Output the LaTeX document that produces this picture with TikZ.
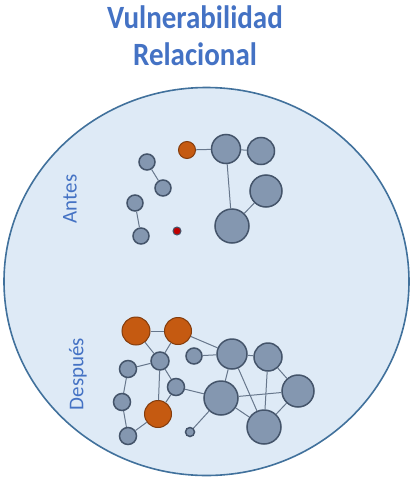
\documentclass[tikz,border=0pt]{standalone}
\usepackage{fontspec}
\setmainfont{Carlito}
\usepackage{tikz}
\definecolor{titleblue}{HTML}{4472C4}
\definecolor{ringblue}{HTML}{41719C}
\definecolor{ringfill}{HTML}{DEEAF6}
\definecolor{nodefill}{HTML}{8497B0}
\definecolor{nodeline}{HTML}{44546A}
\definecolor{orangefill}{HTML}{C55A11}
\definecolor{orangeline}{HTML}{843C0C}
\definecolor{redfill}{HTML}{C00000}
\definecolor{edgegrey}{HTML}{67778C}
\tikzstyle{actor} = [circle, draw=nodeline, fill=nodefill, line width=1.5pt, inner sep=0pt]
\tikzstyle{risk} = [circle, draw=orangeline, fill=orangefill, line width=1pt, inner sep=0pt]
\tikzstyle{focus} = [circle, draw=nodeline, fill=redfill, line width=1pt, inner sep=0pt]
\tikzstyle{tie} = [draw=edgegrey, line width=1pt]
\tikzstyle{phase} = [text=titleblue, font=\fontsize{21}{24}\selectfont, rotate=90]

\begin{document}
\begin{tikzpicture}[x=1pt, y=-1pt]
    \useasboundingbox (0,0) rectangle (413,477);
    \node [text=titleblue, font=\fontsize{29}{33}\selectfont\bfseries, align=center, yscale=1.12, transform shape] (title) at (195,36) {Vulnerabilidad\\Relacional};
    \draw [ringblue, fill=ringfill, line width=1.6pt] (206.5,281.5) ellipse [x radius=202.5, y radius=194];
    \node [phase] (antes) at (70,199) {Antes};
    \node [phase] (despues) at (78,374) {Después};

    % antes
    \node [actor, minimum size=16pt] (a1) at (147,162) {};
    \node [actor, minimum size=16pt] (a2) at (163,188) {};
    \node [actor, minimum size=16pt] (a3) at (135,203) {};
    \node [actor, minimum size=16pt] (a4) at (141,236) {};
    \node [focus, minimum size=8pt] (a_red) at (177,231) {};
    \node [risk, minimum size=17pt] (a_or) at (187,150) {};
    \node [actor, minimum size=29pt] (a_big1) at (226,149) {};
    \node [actor, minimum size=27pt] (a_big2) at (261,151) {};
    \node [actor, minimum size=32pt] (a_big3) at (266,191) {};
    \node [actor, minimum size=34pt] (a_big4) at (232,226) {};

    % despues
    \node [risk, minimum size=28pt] (d_or1) at (136,331) {};
    \node [risk, minimum size=27pt] (d_or2) at (178,331) {};
    \node [risk, minimum size=27pt] (d_or3) at (158,414) {};
    \node [actor, minimum size=18pt] (d1) at (160,361) {};
    \node [actor, minimum size=17pt] (d2) at (128,369) {};
    \node [actor, minimum size=17pt] (d3) at (122,402) {};
    \node [actor, minimum size=17pt] (d4) at (128,436) {};
    \node [actor, minimum size=17pt] (d5) at (176,387) {};
    \node [actor, minimum size=16pt] (d6) at (194,356) {};
    \node [actor, minimum size=9pt] (d7) at (190,432) {};
    \node [actor, minimum size=30pt] (d_big1) at (232,354) {};
    \node [actor, minimum size=28pt] (d_big2) at (268,357) {};
    \node [actor, minimum size=34pt] (d_big3) at (221,398) {};
    \node [actor, minimum size=32pt] (d_big4) at (298,391) {};
    \node [actor, minimum size=34pt] (d_big5) at (264,427) {};

    \path [tie] (a1) -- (a2);
    \path [tie] (a3) -- (a4);
    \path [tie] (a_or) -- (a_big1);
    \path [tie] (a_big1) -- (a_big2);
    \path [tie] (a_big1) -- (a_big4);
    \path [tie] (a_big4) -- (a_big3);

    \path [tie] (d_or1) -- (d_or2);
    \path [tie] (d_or1) -- (d1);
    \path [tie] (d_or2) -- (d1);
    \path [tie] (d_or2) -- (d_big1);
    \path [tie] (d1) -- (d2);
    \path [tie] (d2) -- (d3);
    \path [tie] (d3) -- (d4);
    \path [tie] (d4) -- (d_or3);
    \path [tie] (d1) -- (d_or3);
    \path [tie] (d1) -- (d5);
    \path [tie] (d5) -- (d_or3);
    \path [tie] (d5) -- (d_big3);
    \path [tie] (d6) -- (d_big1);
    \path [tie] (d7) -- (d_big3);
    \path [tie] (d_big1) -- (d_big2);
    \path [tie] (d_big1) -- (d_big3);
    \path [tie] (d_big1) -- (d_big5);
    \path [tie] (d_big2) -- (d_big5);
    \path [tie] (d_big2) -- (d_big4);
    \path [tie] (d_big3) -- (d_big4);
    \path [tie] (d_big3) -- (d_big5);
    \path [tie] (d_big4) -- (d_big5);
\end{tikzpicture}
\end{document}
